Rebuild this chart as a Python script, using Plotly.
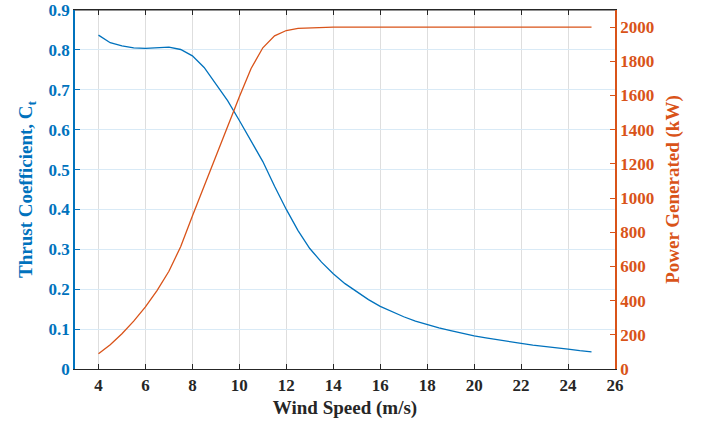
import plotly.graph_objects as go

wind_speed = [4, 4.5, 5, 5.5, 6, 6.5, 7, 7.5, 8, 8.5, 9, 9.5, 10, 10.5, 11, 11.5, 12, 12.5,
              13, 13.5, 14, 14.5, 15, 15.5, 16, 16.5, 17, 17.5, 18, 18.5, 19, 19.5, 20,
              20.5, 21, 21.5, 22, 22.5, 23, 23.5, 24, 24.5, 25]

thrust_ct = [0.837, 0.818, 0.810, 0.805, 0.804, 0.806, 0.807, 0.801, 0.785, 0.756, 0.716,
             0.673, 0.623, 0.571, 0.520, 0.458, 0.400, 0.347, 0.302, 0.268, 0.239, 0.214,
             0.193, 0.174, 0.157, 0.143, 0.131, 0.120, 0.111, 0.103, 0.096, 0.089, 0.083,
             0.078, 0.073, 0.068, 0.064, 0.060, 0.057, 0.053, 0.050, 0.046, 0.043]

power_kw = [89, 142, 206, 280, 363, 460, 572, 715, 895, 1070, 1245, 1418, 1592, 1758, 1879,
            1949, 1980, 1992, 1996, 1999, 2000, 2000, 2000, 2000, 2000, 2000, 2000, 2000,
            2000, 2000, 2000, 2000, 2000, 2000, 2000, 2000, 2000, 2000, 2000, 2000, 2000,
            2000, 2000]

x_ticks = list(range(4, 27, 2))
ct_ticks = [0, 0.1, 0.2, 0.3, 0.4, 0.5, 0.6, 0.7, 0.8, 0.9]
ct_tick_labels = ["0", "0.1", "0.2", "0.3", "0.4", "0.5", "0.6", "0.7", "0.8", "0.9"]
power_ticks = list(range(0, 2001, 200))

BLUE = "#0072BD"
ORANGE = "#D95319"
DARK = "#262626"
FONT = "Liberation Serif"

fig = go.Figure()
fig.add_trace(go.Scatter(x=wind_speed, y=thrust_ct, mode="lines",
                         line=dict(color=BLUE, width=1.3), xaxis="x", yaxis="y",
                         showlegend=False))
fig.add_trace(go.Scatter(x=wind_speed, y=power_kw, mode="lines",
                         line=dict(color=ORANGE, width=1.3), xaxis="x", yaxis="y2",
                         showlegend=False))

fig.update_layout(
    width=702, height=424,
    margin=dict(l=75, r=87, t=10, b=55),
    paper_bgcolor="white", plot_bgcolor="white",
    font=dict(family=FONT, size=17),
    xaxis=dict(
        range=[3, 26], tickvals=x_ticks, ticks="inside", ticklen=5, tickcolor=DARK,
        showline=True, linecolor=DARK, linewidth=1.2, mirror="ticks", automargin=False,
        showgrid=True, gridcolor="rgb(222,222,222)", gridwidth=1.3, zeroline=False,
        tickfont=dict(family=FONT, size=17, color=DARK, weight="bold"),
        title=dict(text="<b>Wind Speed (m/s)</b>", font=dict(family=FONT, size=19, color=DARK),
                   standoff=7),
    ),
    xaxis2=dict(
        range=[3, 26], tickvals=x_ticks, ticks="inside", ticklen=5, tickcolor=DARK,
        overlaying="x", side="top", showline=True, linecolor=DARK, linewidth=1.2,
        showgrid=False, zeroline=False, showticklabels=False, automargin=False,
    ),
    yaxis=dict(
        range=[0, 0.9], tickvals=ct_ticks, ticktext=ct_tick_labels, ticks="inside",
        ticklen=5, tickcolor=BLUE, showline=True, linecolor=BLUE, linewidth=1.5,
        showgrid=True, gridcolor="rgb(217,234,246)", gridwidth=1.3, zeroline=False,
        automargin=False, ticklabeloverflow="allow",
        tickfont=dict(family=FONT, size=17, color=BLUE, weight="bold"),
        title=dict(text="<b>Thrust Coefficient, C<sub>t</sub></b>",
                   font=dict(family=FONT, size=19, color=BLUE), standoff=11),
    ),
    yaxis2=dict(
        range=[0, 2100], tickvals=power_ticks, ticks="inside", ticklen=5, tickcolor=ORANGE,
        overlaying="y", side="right", showline=True, linecolor=ORANGE, linewidth=1.5,
        showgrid=False, zeroline=False, automargin=False, ticklabeloverflow="allow",
        tickfont=dict(family=FONT, size=17, color=ORANGE, weight="bold"),
        title=dict(text="<b>Power Generated (kW)</b>",
                   font=dict(family=FONT, size=19, color=ORANGE), standoff=13),
    ),
)

# invisible anchor trace so the top frame axis is drawn
fig.add_trace(go.Scatter(x=[3, 26], y=[None, None], xaxis="x2", yaxis="y",
                         mode="lines", showlegend=False, hoverinfo="skip"))

# top frame line of the axes box
fig.add_shape(type="line", xref="paper", yref="paper", x0=0, x1=1, y0=1, y1=1,
              line=dict(color=DARK, width=1.2), layer="above")

fig.write_html("out.html", post_script="document.body.style.margin='0';",
               config={"displayModeBar": False})
